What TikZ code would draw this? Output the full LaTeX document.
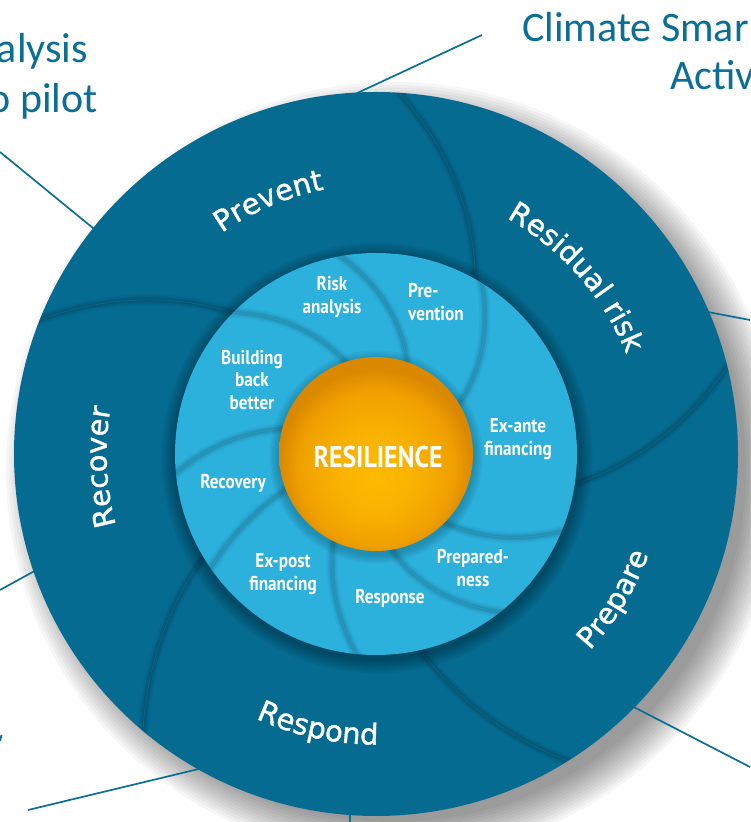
\documentclass[tikz,border=0pt]{standalone}
\usepackage{fontspec}
\usetikzlibrary{calc,decorations.text}
\newfontfamily\cornerfont{Carlito}
\newfontfamily\innerfont[FakeStretch=0.86]{PT Sans}
\newfontfamily\outerfont[FakeBold=1.2]{DejaVu Sans}
\definecolor{ringdark}{HTML}{066B91}
\definecolor{ringlight}{HTML}{2CB0DC}
\definecolor{tealtext}{HTML}{0B6E95}
\definecolor{ballA}{HTML}{FDBA00}
\definecolor{ballB}{HTML}{F9B200}
\definecolor{ballC}{HTML}{EFA000}
\definecolor{ballD}{HTML}{D98800}
\pgfdeclareradialshading{ballshade}{\pgfpoint{0bp}{-6bp}}{color(0bp)=(ballA); color(10bp)=(ballB); color(20bp)=(ballC); color(25bp)=(ballD); color(50bp)=(ballD)}
\newcommand\sepcurve[4]{%
  \foreach \w/\o in {11/0.03,8/0.04,5.5/0.05,3/0.06}{%
    \draw[line width=\w pt,black,opacity=\o,line cap=round] plot[domain=0:1,samples=40,variable=\t] ({#1+((#2)-(#1))*\t}:{#3+((#4)-(#3))*\t});}%
  \draw[line width=0.6pt,white,opacity=0.08] plot[domain=0:1,samples=40,variable=\t] ({#1+((#2)-(#1))*\t}:{#3+((#4)-(#3))*\t});}
\begin{document}
\begin{tikzpicture}[x=1pt,y=1pt,
  leader/.style={draw=tealtext, line width=1.7pt},
  innerlabel/.style={text=white, font=\innerfont\bfseries\fontsize{20}{22.5}\selectfont, align=center, inner sep=0pt},
  centrelabel/.style={text=white, font=\innerfont\bfseries\fontsize{30}{30}\selectfont, inner sep=0pt},
  cornertext/.style={text=tealtext, font=\cornerfont\fontsize{42}{50}\selectfont, inner sep=0pt},
  outerlabel/.style={decorate, decoration={text along path, text align=center, text={|\outerfont\fontsize{29}{30}\selectfont\color{white}|#1}}}
]
\useasboundingbox (0,0) rectangle (750,822);
\fill[white] (0,0) rectangle (750,822);
\coordinate (C) at (376,368);
\coordinate (S) at (394,352);

% soft drop shadow
\foreach \i in {0,...,12}{\fill[black,opacity=0.036] (S) circle[radius={352+\i*3}];}

% corner texts
\node[cornertext, anchor=base east] (tl1) at (88,759) {alysis};
\node[cornertext, anchor=base east] (tl2) at (98,709) {o pilot};
\node[cornertext, anchor=base west] (tr1) at (522,780) {Climate Smar};
\node[cornertext, anchor=base west] (tr2) at (670,732) {Activ};

% leader lines
\coordinate (a1) at (0,670);   \coordinate (b1) at (99,589);
\coordinate (a2) at (482,787); \coordinate (b2) at (353,727);
\coordinate (a3) at (750,502); \coordinate (b3) at (705,510.5);
\coordinate (a4) at (750,55);  \coordinate (b4) at (627,118.5);
\coordinate (a5) at (0,232);   \coordinate (b5) at (40,254);
\coordinate (a6) at (28,12);   \coordinate (b6) at (205,54.5);
\coordinate (a7) at (350,0);   \coordinate (b7) at (350,12);
\coordinate (a8) at (0,81);    \coordinate (b8) at (1.5,87);
\foreach \k in {1,...,8}{\draw[leader] (a\k) -- (b\k);}

% outer ring
\fill[ringdark] (C) circle[radius=362];
\begin{scope}
  \clip (C) circle[radius=362];
  \begin{scope}[shift={(C)}]
    \sepcurve{60}{87}{198}{366}
    \sepcurve{-9}{14.5}{198}{366}
    \sepcurve{-77.5}{-57.5}{198}{366}
    \sepcurve{-149.4}{-129.6}{198}{366}
    \sepcurve{135}{158.8}{198}{366}
  \end{scope}
\end{scope}

% shadow of the light disc on the outer ring
\foreach \i in {1,...,8}{\fill[black,opacity=0.04] ($(C)+(1,-4)$) circle[radius={201+\i*1.8}];}

% light inner ring
\fill[ringlight] (C) circle[radius=201];
\begin{scope}
  \clip (C) circle[radius=201];
  \begin{scope}[shift={(C)}]
    \sepcurve{70}{101}{92}{204}
    \sepcurve{30}{59}{92}{204}
    \sepcurve{-46}{-22}{92}{204}
    \sepcurve{-82}{-51}{92}{204}
    \sepcurve{-117}{-95}{92}{204}
    \sepcurve{-159}{-145}{92}{204}
    \sepcurve{164}{186}{92}{204}
    \sepcurve{107}{136}{92}{204}
  \end{scope}
  \foreach \i in {1,...,6}{\fill[black,opacity=0.03] ($(C)+(0,-3)$) circle[radius={97+\i*1.6}];}
\end{scope}

% orange sphere
\shade[shading=ballshade] (C) circle[radius=97];

% outer labels
\path[outerlabel={Prevent}] ($(C)+(153:269.5)$) arc[start angle=153, end angle=73, radius=269.5];
\path[outerlabel={Residual risk}] ($(C)+(81.4:269.5)$) arc[start angle=81.4, end angle=1.4, radius=269.5];
\path[outerlabel={Recover}] ($(C)+(222.7:269.5)$) arc[start angle=222.7, end angle=142.7, radius=269.5];
\path[outerlabel={Prepare}] ($(C)+(-71.4:290.5)$) arc[start angle=-71.4, end angle=8.6, radius=290.5];
\path[outerlabel={Respond}] ($(C)+(-142:290.5)$) arc[start angle=-142, end angle=-62, radius=290.5];

% inner labels
\node[innerlabel] (riskanalysis) at (332,525) {Risk\\analysis};
\node[innerlabel, align=left, anchor=west] (prevention) at (408,520) {Pre-\\vention};
\node[innerlabel] (bbb) at (252,442) {Building\\back\\better};
\node[innerlabel] (exante) at (518,383) {Ex-ante\\financing};
\node[innerlabel] (recovery) at (233,339) {Recovery};
\node[innerlabel] (expost) at (283,248) {Ex-post\\financing};
\node[innerlabel] (response) at (390,224) {Response};
\node[innerlabel] (preparedness) at (473,254) {Prepared-\\ness};
\node[centrelabel] (resilience) at (378,365) {RESILIENCE};
\end{tikzpicture}
\end{document}
